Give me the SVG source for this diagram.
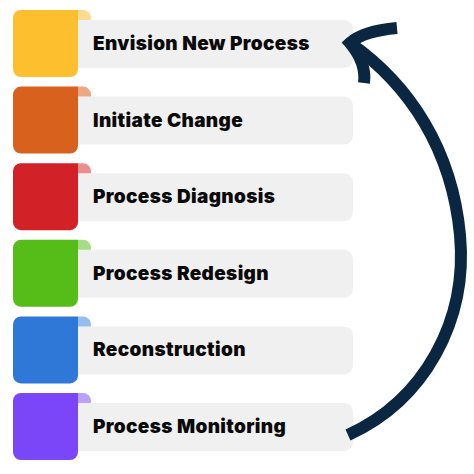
<svg xmlns="http://www.w3.org/2000/svg" width="474" height="474" viewBox="0 0 474 474">
<defs>
<style>
.bar{fill:#f0f0f0}
.lbl{font-family:Inter,"Liberation Sans",sans-serif;font-weight:900;font-size:19px;letter-spacing:0.35px;fill:#0a0a0a}
.arr{fill:none;stroke:#0b2640;stroke-width:12}
</style>
</defs>
<rect width="474" height="474" fill="#fff"/>
<g id="n1" transform="translate(0,0)">
<rect class="bar" x="70" y="20" width="283" height="48" rx="9"/>
<path d="M78,10 H83 A8,8 0 0 1 91,18 V20 H78 Z" fill="#fddb93"/>
<path d="M21,10 H78 V69 A8,8 0 0 1 70,77 H21 A8,8 0 0 1 13,69 V18 A8,8 0 0 1 21,10 Z" fill="#fdbf2d"/>
<text class="lbl" x="93" y="50">Envision New Process</text>
</g>
<g id="n2" transform="translate(0,76.6)">
<rect class="bar" x="70" y="20" width="283" height="48" rx="9"/>
<path d="M78,10 H83 A8,8 0 0 1 91,18 V20 H78 Z" fill="#eca783"/>
<path d="M21,10 H78 V69 A8,8 0 0 1 70,77 H21 A8,8 0 0 1 13,69 V18 A8,8 0 0 1 21,10 Z" fill="#d9611e"/>
<text class="lbl" x="93" y="50">Initiate Change</text>
</g>
<g id="n3" transform="translate(0,153.2)">
<rect class="bar" x="70" y="20" width="283" height="48" rx="9"/>
<path d="M78,10 H83 A8,8 0 0 1 91,18 V20 H78 Z" fill="#ea8f8f"/>
<path d="M21,10 H78 V69 A8,8 0 0 1 70,77 H21 A8,8 0 0 1 13,69 V18 A8,8 0 0 1 21,10 Z" fill="#d22227"/>
<text class="lbl" x="93" y="50">Process Diagnosis</text>
</g>
<g id="n4" transform="translate(0,229.8)">
<rect class="bar" x="70" y="20" width="283" height="48" rx="9"/>
<path d="M78,10 H83 A8,8 0 0 1 91,18 V20 H78 Z" fill="#a6dc84"/>
<path d="M21,10 H78 V69 A8,8 0 0 1 70,77 H21 A8,8 0 0 1 13,69 V18 A8,8 0 0 1 21,10 Z" fill="#55bc18"/>
<text class="lbl" x="93" y="50">Process Redesign</text>
</g>
<g id="n5" transform="translate(0,306.4)">
<rect class="bar" x="70" y="20" width="283" height="48" rx="9"/>
<path d="M78,10 H83 A8,8 0 0 1 91,18 V20 H78 Z" fill="#96bdf0"/>
<path d="M21,10 H78 V69 A8,8 0 0 1 70,77 H21 A8,8 0 0 1 13,69 V18 A8,8 0 0 1 21,10 Z" fill="#2f78d8"/>
<text class="lbl" x="93" y="50">Reconstruction</text>
</g>
<g id="n6" transform="translate(0,383)">
<rect class="bar" x="70" y="20" width="283" height="48" rx="9"/>
<path d="M78,10 H83 A8,8 0 0 1 91,18 V20 H78 Z" fill="#bba1fa"/>
<path d="M21,10 H78 V69 A8,8 0 0 1 70,77 H21 A8,8 0 0 1 13,69 V18 A8,8 0 0 1 21,10 Z" fill="#7a46f8"/>
<text class="lbl" x="93" y="50">Process Monitoring</text>
</g>
<g id="connectors">
<path class="arr" d="M348,435 C425,400 468,320 460,235 C452,150 410,85 350,43"/>
<path class="arr" d="M397,28 C375,30 360,34 350,43 C360,55 366,68 364,83"/>
</g>
</svg>
